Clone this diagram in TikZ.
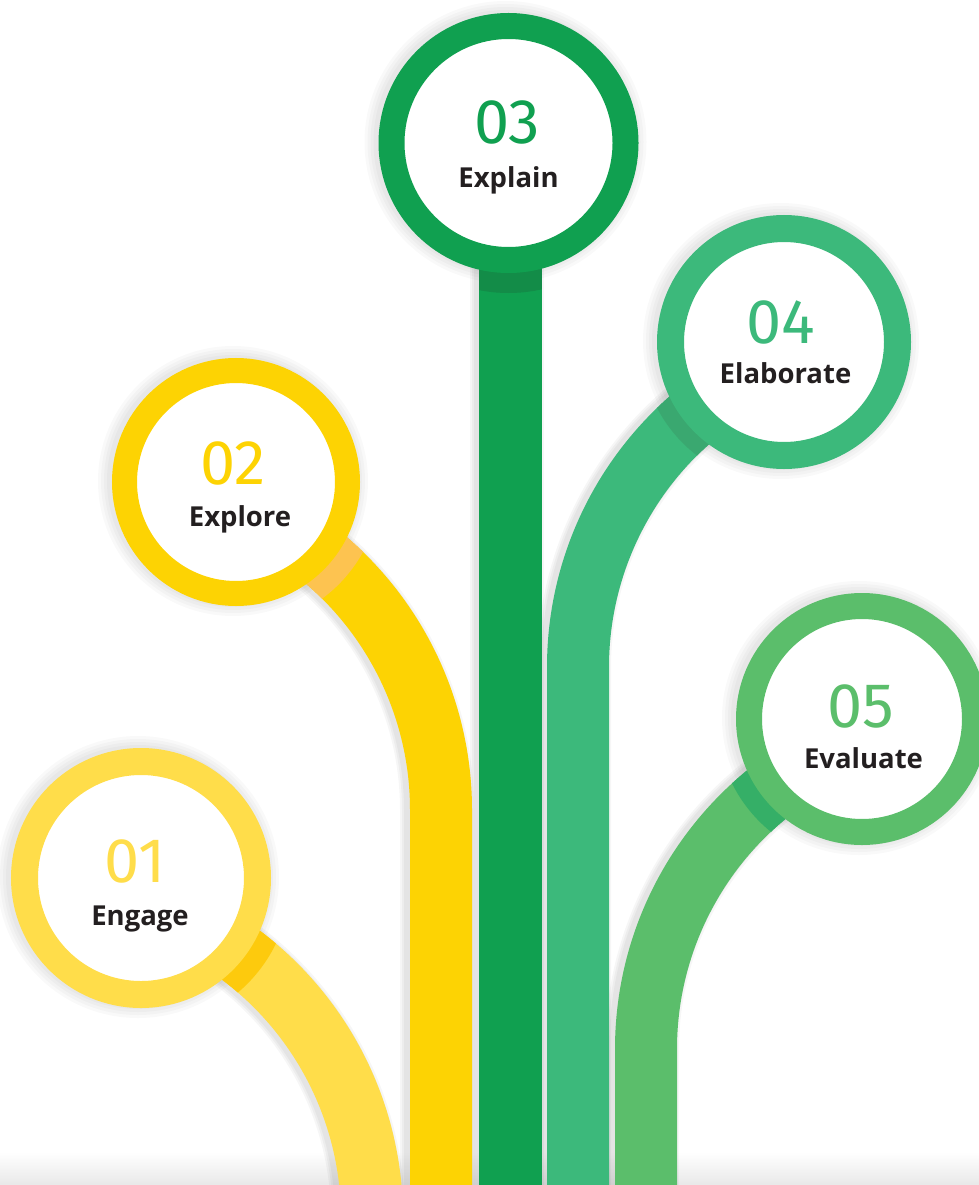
\documentclass[tikz,border=0pt]{standalone}
\usepackage{fontspec}
\setmainfont{Open Sans}
\newfontfamily\numfont{Fira Sans}
\usetikzlibrary{calc}
\definecolor{cA}{HTML}{FFDD4A}
\definecolor{cAd}{HTML}{FDCA0D}
\definecolor{cB}{HTML}{FDD303}
\definecolor{cBd}{HTML}{FDC350}
\definecolor{cC}{HTML}{10A050}
\definecolor{cCd}{HTML}{138C48}
\definecolor{cD}{HTML}{3CB97B}
\definecolor{cDd}{HTML}{3AA870}
\definecolor{cE}{HTML}{5BBE6B}
\definecolor{cEd}{HTML}{35AF67}
\definecolor{ink}{HTML}{231F20}
\newcommand\stempathA{(372,-1218) arc[start angle=0,end angle=74,radius=329]}
\newcommand\stempathB{(441,-1200) -- (441,-810) arc[start angle=0,end angle=70,radius=329]}
\newcommand\stempathC{(510.5,-1200) -- (510.5,-143)}
\newcommand\stempathD{(578,-1200) -- (578,-667) arc[start angle=180,end angle=110,radius=329]}
\newcommand\stempathE{(646,-1200) -- (646,-1049) arc[start angle=180,end angle=109,radius=329]}
\begin{document}
\begin{tikzpicture}[x=1pt,y=1pt,
  ring/.style={circle, draw=#1, fill=white, inner sep=0pt},
  stem/.style={draw=#1, line width=62pt, line cap=butt},
  stemshadow/.style={draw=black, opacity=0.035, line width=#1, line cap=butt},
  num/.style={font=\numfont\fontsize{63}{63}\selectfont, anchor=base, text=#1, inner sep=0pt},
  lbl/.style={font=\bfseries\fontsize{27.5}{28}\selectfont, anchor=base, text=ink, inner sep=0pt}]
\useasboundingbox (0,0) rectangle (979,-1185);
\fill[white] (0,0) rectangle (979,-1185);
\shade[top color=white, bottom color=black!9] (0,-1152) rectangle (979,-1185);
% circle shadows
\foreach \cx/\cy/\R in {141/878/130, 236/482/124, 508.5/143/130, 784/342/127, 862/719/126}{
  \foreach \k in {2,5,8,11}{
    \fill[black, opacity=0.022] (\cx-3,-\cy+1) circle (\R+\k);
  }
}
% stem shadows
\foreach \k in {66pt,70pt,74pt}{
  \begin{scope}[xshift=-4pt]
  \draw[stemshadow=\k] \stempathA;
  \draw[stemshadow=\k] \stempathB;
  \draw[stemshadow=\k] \stempathC;
  \draw[stemshadow=\k] \stempathD;
  \draw[stemshadow=\k] \stempathE;
  \end{scope}
}
% stems
\draw[stem=cA] \stempathA;
\draw[stem=cB] \stempathB;
\draw[stem=cC, line width=63pt] \stempathC;
\draw[stem=cD] \stempathD;
\draw[stem=cE] \stempathE;
% darker bands next to the circles
\begin{scope}\clip (141,-878) circle (150);\draw[stem=cAd] \stempathA;\end{scope}
\begin{scope}\clip (236,-482) circle (145);\draw[stem=cBd] \stempathB;\end{scope}
\begin{scope}\clip (508.5,-143) circle (150);\draw[stem=cCd, line width=63pt] \stempathC;\end{scope}
\begin{scope}\clip (784,-342) circle (143);\draw[stem=cDd] \stempathD;\end{scope}
\begin{scope}\clip (862,-719) circle (145);\draw[stem=cEd] \stempathE;\end{scope}
% rings
\node[ring=cA, line width=27pt, minimum size=233pt] (n1) at (141,-878) {};
\node[ring=cB, line width=25pt, minimum size=223pt] (n2) at (236,-482) {};
\node[ring=cC, line width=26pt, minimum size=234pt] (n3) at (508.5,-143) {};
\node[ring=cD, line width=27pt, minimum size=227pt] (n4) at (784,-342) {};
\node[ring=cE, line width=26pt, minimum size=226pt] (n5) at (862,-719) {};
% texts
\node[num=cA] (t1) at (135,-882) {01};
\node[lbl] (l1) at (140,-925) {Engage};
\node[num=cB] (t2) at (233,-484) {02};
\node[lbl] (l2) at (240,-526) {Explore};
\node[num=cC] (t3) at (507,-144) {03};
\node[lbl] (l3) at (508.5,-187) {Explain};
\node[num=cD] (t4) at (781,-343) {04};
\node[lbl] (l4) at (785.5,-383) {Elaborate};
\node[num=cE] (t5) at (860.5,-727) {05};
\node[lbl] (l5) at (863.5,-768) {Evaluate};
\end{tikzpicture}
\end{document}
